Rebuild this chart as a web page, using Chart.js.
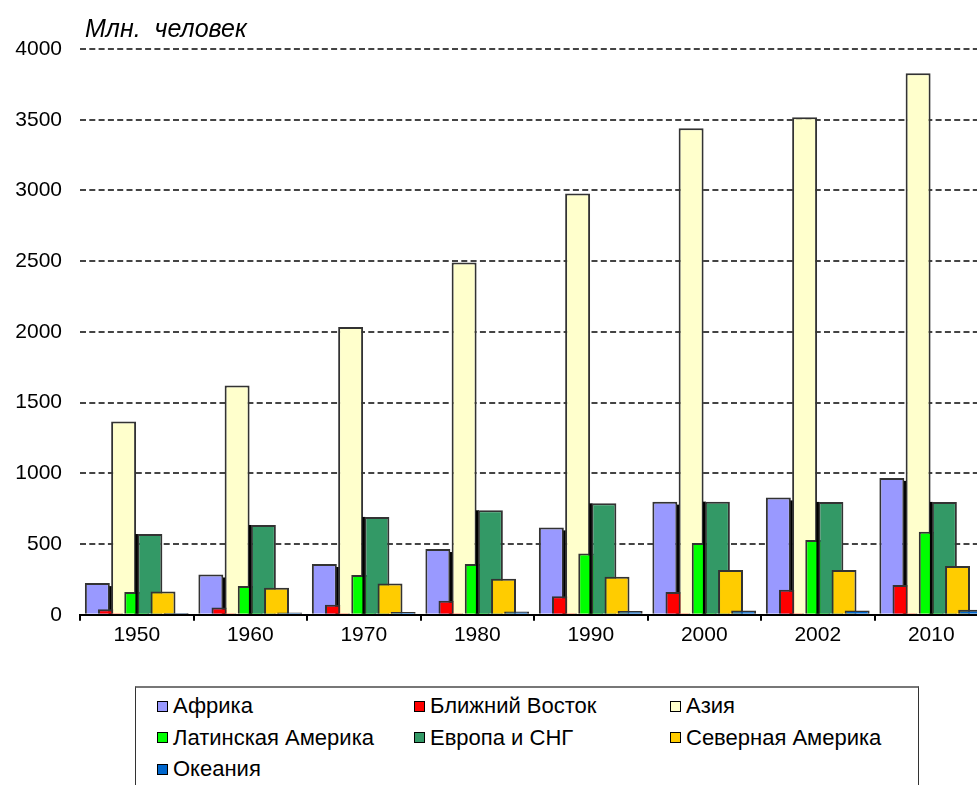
<!DOCTYPE html>
<html lang="ru">
<head>
    <meta charset="UTF-8">
    <title>Население по регионам</title>

    <!-- Chart.js CDN -->
    <script src="https://cdn.jsdelivr.net/npm/chart.js"></script>

    <style>
        body {
            margin: 0;
            width: 977px;
            height: 785px;
            overflow: hidden;
            position: relative;
            background: #fff;
            font-family: "Liberation Sans", Arial, sans-serif;
        }
        .chart-wrap {
            position: absolute;
            left: 0;
            top: 0;
            width: 990px;
            height: 660px;
        }
        .unit-title {
            position: absolute;
            left: 85px;
            top: 14px;
            font-size: 25px;
            font-style: italic;
            color: #000;
            white-space: pre;
        }
        .legend-box {
            position: absolute;
            left: 135px;
            top: 686px;
            width: 782px;
            height: 120px;
            border: 1px solid #333;
            border-top: 2px solid #777;
        }
        .legend-item {
            position: absolute;
            display: flex;
            align-items: center;
            font-size: 22px;
            color: #000;
            white-space: nowrap;
        }
        .legend-item span.box {
            display: inline-block;
            width: 9px;
            height: 9px;
            border: 1px solid #000;
            margin-right: 5px;
        }
    </style>
</head>
<body>

<div class="chart-wrap">
    <canvas id="barChart"></canvas>
</div>
<div class="unit-title">Млн.  человек</div>
<div class="legend-box" id="legend"></div>

<script>
    // years along the x axis
    const years = ['1950', '1960', '1970', '1980', '1990', '2000', '2002', '2010'];

    // population by region, mln people
    const africa      = [224, 285, 359, 465, 618, 800, 830, 968];
    const middleEast  = [40, 52, 71, 99, 132, 161, 177, 210];
    const asia        = [1366, 1621, 2034, 2490, 2978, 3440, 3517, 3828];
    const latinAm     = [161, 203, 281, 359, 434, 508, 529, 588];
    const europeCis   = [571, 635, 692, 739, 788, 800, 798, 798];
    const northAm     = [165, 191, 222, 255, 269, 316, 316, 345];
    const oceania     = [13, 16, 19, 23, 27, 30, 31, 35];

    const seriesNames = ['Африка', 'Ближний Восток', 'Азия', 'Латинская Америка',
                         'Европа и СНГ', 'Северная Америка', 'Океания'];
    const seriesData = [africa, middleEast, asia, latinAm, europeCis, northAm, oceania];

    const yTicks = [0, 500, 1000, 1500, 2000, 2500, 3000, 3500, 4000];

    const colors = ['#9999FF', '#FF0000', '#FFFFCC', '#00FF00', '#339966', '#FFCC00', '#0066CC'];

    // excel-like dark edge next to some bars
    const shadowSides = [1, 0, 0, 0, -1, 0, 0];

    // draw series left to right so each one overlaps the previous (excel overlap look)
    const drawOrder = {
        id: 'drawOrder',
        beforeDatasetsDraw(chart) {
            const metas = chart.getSortedVisibleDatasetMetas();
            for (let i = 0; i < metas.length; i++) {
                chart._drawDataset(metas[i]);
            }
            return false;
        }
    };

    const barShadow = {
        id: 'barShadow',
        beforeDatasetDraw(chart, args) {
            const side = chart.data.datasets[args.index].shadowSide;
            if (!side) return;
            const ctx = chart.ctx;
            ctx.save();
            ctx.fillStyle = '#000';
            args.meta.data.forEach(bar => {
                const left = side > 0 ? bar.x + bar.width / 2 - 1 : bar.x - bar.width / 2 - 2;
                const top = side > 0 ? bar.y + 3 : bar.y;
                ctx.fillRect(left, top, 3, bar.base - top);
            });
            ctx.restore();
        }
    };

    const datasets = seriesNames.map((name, i) => ({
        label: name,
        data: seriesData[i],
        backgroundColor: colors[i],
        borderColor: '#333',
        borderWidth: 2,
        barPercentage: 1.9,
        categoryPercentage: 0.81,
        shadowSide: shadowSides[i]
    }));

    const ctx = document.getElementById('barChart').getContext('2d');
    new Chart(ctx, {
        type: 'bar',
        data: { labels: years, datasets: datasets },
        options: {
            responsive: true,
            maintainAspectRatio: false,
            animation: false,
            layout: { padding: { left: 15, top: 49, right: 2, bottom: 10 } },
            plugins: {
                legend: { display: false },
                tooltip: { enabled: false }
            },
            scales: {
                x: {
                    grid: {
                        display: true,
                        drawOnChartArea: false,
                        drawTicks: true,
                        tickLength: 6,
                        color: '#000',
                        lineWidth: 2
                    },
                    border: { display: true, color: '#000', width: 2 },
                    ticks: {
                        color: '#000',
                        padding: 2,
                        font: { family: '"Liberation Sans", Arial', size: 21 }
                    }
                },
                y: {
                    min: 0,
                    max: 4000,
                    afterBuildTicks: axis => { axis.ticks = yTicks.map(v => ({ value: v })); },
                    afterFit: axis => { axis.width = 65; },
                    grid: {
                        color: '#444',
                        lineWidth: 2,
                        drawTicks: false
                    },
                    border: { display: false, dash: [6, 3.3] },
                    ticks: {
                        color: '#000',
                        padding: 18,
                        callback: v => String(v),
                        font: { family: '"Liberation Sans", Arial', size: 21 }
                    }
                }
            }
        },
        plugins: [drawOrder, barShadow]
    });

    // legend in three columns, like the original
    const legend = document.getElementById('legend');
    const colX = [21, 278, 534];
    seriesNames.forEach((name, i) => {
        const item = document.createElement('div');
        item.className = 'legend-item';
        item.style.left = colX[i % 3] + 'px';
        item.style.top = (5 + Math.floor(i / 3) * 31.5) + 'px';
        item.innerHTML = '<span class="box" style="background:' + colors[i] + '"></span>' + name;
        legend.appendChild(item);
    });
</script>

</body>
</html>
